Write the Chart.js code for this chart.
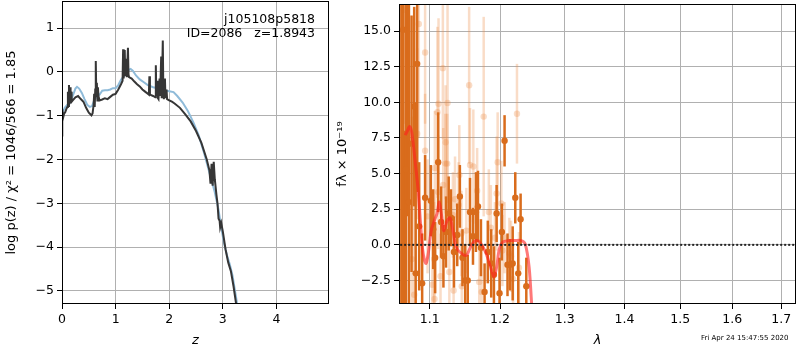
<!DOCTYPE html>
<html>
<head>
<meta charset="utf-8">
<script src="https://cdn.jsdelivr.net/npm/chart.js@4"></script>
<style>
  body { margin: 0; background: #fff; overflow: hidden; }
  #wrap { position: relative; width: 800px; height: 350px; }
  #left { position: absolute; left: 0; top: 0; width: 335px; height: 350px; }
  #right { position: absolute; left: 335px; top: 0; width: 465px; height: 350px; }
  #stamp { position: absolute; left: 701px; top: 334px; font: 7px 'DejaVu Sans'; color: #000; }
</style>
</head>
<body>
<div id="wrap">
  <div id="left"><canvas id="pzChart"></canvas></div>
  <div id="right"><canvas id="specChart"></canvas></div>
  <div id="stamp">Fri Apr 24 15:47:55 2020</div>
</div>
<script>
// p(z) panel
const zDark = [0.00, 0.005, 0.02, 0.04, 0.06, 0.08, 0.10, 0.11, 0.12, 0.13, 0.14, 0.15, 0.16, 0.17, 0.18, 0.20, 0.25, 0.30, 0.35, 0.40,
  0.45, 0.50, 0.55, 0.57, 0.59, 0.60, 0.61, 0.62, 0.63, 0.64, 0.65, 0.66, 0.67, 0.68, 0.70, 0.75, 0.80, 0.85, 0.90, 0.95,
  1.00, 1.05, 1.10, 1.13, 1.14, 1.15, 1.17, 1.18, 1.20, 1.21, 1.23, 1.24, 1.25, 1.30, 1.35, 1.40, 1.45, 1.50, 1.55, 1.60,
  1.62, 1.63, 1.64, 1.70, 1.74, 1.75, 1.76, 1.78, 1.79, 1.80, 1.82, 1.83, 1.85, 1.86, 1.88, 1.89, 1.90, 1.92, 1.93, 1.95,
  1.96, 2.00, 2.05, 2.10, 2.20, 2.30, 2.40, 2.50, 2.60, 2.70, 2.75, 2.77, 2.79, 2.81, 2.83, 2.85, 2.88, 2.90, 2.92, 2.94,
  2.95, 2.97, 3.00, 3.05, 3.10, 3.15, 3.20, 3.26];
const logpDark = [-1.45, -0.85, -1.05, -0.95, -0.92, -0.85, -0.80, -0.45, -0.78, -0.30, -0.70, -0.35, -0.72, -0.45, -0.68, -0.65, -0.58, -0.55, -0.62, -0.68,
  -0.82, -0.93, -0.99, -0.95, -0.75, -0.50, -0.80, -0.40, 0.25, -0.55, -0.25, -0.65, -0.35, -0.55, -0.65, -0.63, -0.60, -0.62, -0.57, -0.52,
  -0.50, -0.40, -0.28, -0.20, 0.52, -0.15, 0.50, -0.10, 0.30, -0.12, 0.55, -0.05, -0.12, -0.15, -0.22, -0.28, -0.33, -0.40, -0.45, -0.50,
  -0.52, -0.10, -0.52, -0.55, -0.58, 0.15, -0.55, -0.20, -0.60, -0.62, -0.15, -0.55, 0.35, -0.60, 0.72, -0.45, -0.62, -0.15, -0.60, -0.40,
  -0.62, -0.65, -0.68, -0.72, -0.82, -0.97, -1.13, -1.35, -1.62, -2.00, -2.25, -2.55, -2.10, -2.60, -2.05, -2.45, -2.80, -3.00, -3.35, -3.40,
  -3.55, -3.45, -3.65, -4.05, -4.35, -4.55, -4.90, -5.40];
const zBlue = [0.00, 0.05, 0.10, 0.15, 0.20, 0.25, 0.28, 0.32, 0.37, 0.42, 0.47, 0.52, 0.56, 0.60, 0.65, 0.70, 0.75, 0.80, 0.85, 0.90,
  0.95, 1.00, 1.05, 1.10, 1.15, 1.20, 1.25, 1.28, 1.32, 1.38, 1.45, 1.52, 1.60, 1.70, 1.80, 1.90, 2.00, 2.08, 2.15, 2.25,
  2.35, 2.45, 2.55, 2.65, 2.75, 2.85, 2.92, 2.97, 3.02, 3.08, 3.13, 3.18, 3.24, 3.28];
const logpBlue = [-0.95, -0.82, -0.75, -0.70, -0.55, -0.38, -0.34, -0.38, -0.48, -0.62, -0.75, -0.80, -0.78, -0.65, -0.55, -0.52, -0.43, -0.42, -0.42, -0.40,
  -0.37, -0.37, -0.30, -0.18, -0.10, -0.02, 0.05, 0.07, 0.03, -0.08, -0.17, -0.23, -0.30, -0.35, -0.38, -0.42, -0.44, -0.46, -0.55, -0.70,
  -0.90, -1.15, -1.45, -1.85, -2.30, -2.75, -3.15, -3.55, -3.90, -4.20, -4.40, -4.65, -5.10, -5.40];
const zTicks = [0, 1, 2, 3, 4];
const logpTicks = [-5, -4, -3, -2, -1, 0, 1];

// spectrum panel
const darkWave = [1.0620, 1.0645, 1.0660, 1.0680, 1.0700, 1.0720, 1.0755, 1.0790, 1.0810, 1.0830, 1.0857, 1.0897, 1.0937, 1.1015, 1.1047, 1.1074,
  1.1115, 1.1156, 1.1188, 1.1224, 1.1261, 1.1293, 1.1335, 1.1381, 1.1418, 1.1455, 1.1493, 1.1530, 1.1562, 1.1605, 1.1648, 1.1677,
  1.1720, 1.1773, 1.1820, 1.1870, 1.1910, 1.1950, 1.1993, 1.2028, 1.2068, 1.2112, 1.2150, 1.2190, 1.2229, 1.2274, 1.2310, 1.2397];
const darkFlux = [19.0, 15.1, -6.0, 5.3, 18.0, 3.0, 7.1, 9.7, -2.0, 12.7, 1.3, -2.7, 3.3, 3.1, 1.1, -0.9,
  5.8, 1.6, -0.8, 0.9, 2.2, 1.9, -0.5, 0.7, 3.4, -0.9, -2.5, -2.5, 2.3, 0.6, 2.3, 2.7,
  -0.2, -3.3, -0.5, -1.3, -2.1, 2.2, -3.4, 0.9, 7.3, -1.4, -1.4, -1.3, 3.3, -2.0, 1.8, -2.9];
const darkErr = [25, 20, 14, 12, 16, 14, 9, 7, 12, 9, 4.5, 3.5, 3.0, 2.5, 2.8, 2.5,
  3.5, 2.5, 2.2, 2.5, 2.6, 2.0, 2.5, 2.2, 2.2, 2.0, 2.5, 1.8, 2.4, 2.0, 2.8, 2.5,
  2.0, 2.0, 2.2, 2.4, 2.0, 2.0, 2.5, 2.0, 1.8, 2.2, 1.8, 2.6, 1.8, 2.2, 1.8, 2.0];
const lightWave = [1.0652, 1.0760, 1.0790, 1.0830, 1.0852, 1.0937, 1.0937, 1.0970, 1.1035, 1.1060, 1.1065, 1.1070, 1.1105, 1.1115, 1.1120, 1.1148,
  1.1180, 1.1185, 1.1215, 1.1218, 1.1240, 1.1245, 1.1270, 1.1320, 1.1330, 1.1350, 1.1400, 1.1410, 1.1440, 1.1445, 1.1510, 1.1550,
  1.1562, 1.1610, 1.1665, 1.1695, 1.1730, 1.1760, 1.1835, 1.1865, 1.1925, 1.1950, 1.1965, 1.2020, 1.2035, 1.2068, 1.2140, 1.2165,
  1.2195, 1.2255, 1.2285];
const lightFlux = [16.5, -1.0, -3.5, 7.8, 15.5, 13.5, 6.6, 2.0, -2.8, -1.0, -3.8, 5.4, 9.3, 3.7, 9.9, -2.2,
  12.4, 4.2, 5.7, 7.2, 5.7, 9.95, -1.9, 2.1, -3.2, 3.2, 2.8, 4.9, 0.8, -2.9, 1.0, 11.2,
  5.6, 5.5, 3.8, -2.6, -3.3, 9.0, 2.3, 1.2, 0.5, 3.6, 5.8, 2.9, -0.4, 0.5, -0.6, -0.8,
  -2.4, 9.2, -1.6];
const lightErr = [8, 10, 8, 6, 8, 5, 4, 4, 3, 4, 3, 4, 6, 4, 6, 3,
  5, 4, 3.5, 4, 3.5, 7, 3, 3, 3, 3, 3, 3.5, 3, 3, 3, 5.5,
  4, 4, 3, 3, 3, 7, 3, 3, 2.5, 4, 3.5, 3, 2.5, 2.5, 2.5, 2.5,
  2.5, 3.5, 2.5];
const modelWave = [1.067, 1.070, 1.073, 1.076, 1.080, 1.084, 1.087, 1.090, 1.093, 1.095, 1.098, 1.102, 1.107, 1.110, 1.113, 1.116,
  1.119, 1.124, 1.128, 1.132, 1.137, 1.144, 1.151, 1.158, 1.165, 1.172, 1.1795, 1.186, 1.191, 1.195, 1.199, 1.204,
  1.213, 1.222, 1.232, 1.238, 1.244, 1.2485];
const modelFlux = [7.7, 8.0, 8.3, 7.8, 6.0, 4.0, 1.9, -0.2, -1.1, -1.3, -0.6, 1.0, 1.8, 2.2, 3.0, 2.15,
  1.0, 1.7, 1.9, 1.0, -0.2, -0.6, -0.74, -0.05, 0.3, 0.07, -0.6, -1.55, -2.25, -1.55, -0.28, 0.19,
  0.3, 0.3, 0.3, 0.07, -1.55, -4.6];
const waveTicks = [1.1, 1.2, 1.3, 1.4, 1.5, 1.6, 1.7];
const fluxTicks = [-2.5, 0, 2.5, 5, 7.5, 10, 12.5, 15];

Chart.defaults.font.family = 'DejaVu Sans';
Chart.defaults.font.size = 12.5;
Chart.defaults.color = '#000';
Chart.defaults.animation = false;

const pairs = (xs, ys) => xs.map((x, i) => ({x: x, y: ys[i]}));
const minus = s => String(s).replace('-', '\u2212');
// drop the extra room Chart.js keeps for half tick labels at the ends
const noPad = s => { s.paddingTop = 0; s.paddingBottom = 0; s.paddingLeft = 0; s.paddingRight = 0; };

const frame = {
  id: 'frame',
  afterDraw(chart) {
    const a = chart.chartArea, ctx = chart.ctx;
    ctx.save();
    ctx.strokeStyle = '#000';
    ctx.lineWidth = 1;
    ctx.strokeRect(Math.round(a.left) + 0.5, Math.round(a.top) + 0.5, Math.round(a.right - a.left) - 1, Math.round(a.bottom - a.top) - 1);
    ctx.restore();
  }
};

const errorBars = {
  id: 'errorBars',
  beforeDatasetDraw(chart, args) {
    const ds = chart.data.datasets[args.index];
    if (!ds.errors) return;
    const xs = chart.scales.x, ys = chart.scales.y, a = chart.chartArea, ctx = chart.ctx;
    ctx.save();
    ctx.beginPath();
    ctx.rect(a.left, a.top, a.right - a.left, a.bottom - a.top);
    ctx.clip();
    ctx.strokeStyle = ds.errorColor;
    ctx.lineWidth = 2.5;
    ds.data.forEach((p, i) => {
      const px = xs.getPixelForValue(p.x);
      ctx.beginPath();
      ctx.moveTo(px, ys.getPixelForValue(p.y - ds.errors[i]));
      ctx.lineTo(px, ys.getPixelForValue(p.y + ds.errors[i]));
      ctx.stroke();
    });
    ctx.restore();
  }
};

const label = {
  id: 'label',
  afterDraw(chart) {
    const ctx = chart.ctx, a = chart.chartArea;
    ctx.save();
    ctx.font = '12.5px DejaVu Sans';
    ctx.fillStyle = '#000';
    ctx.textAlign = 'right';
    ctx.textBaseline = 'middle';
    ctx.fillText('j105108p5818', a.right - 14, 20);
    ctx.fillText('ID=2086   z=1.8943', a.right - 14, 34);
    ctx.restore();
  }
};

const gridStyle = {color: '#b0b0b0', lineWidth: 1, tickColor: '#000', tickLength: 5};

new Chart(document.getElementById('pzChart'), {
  type: 'scatter',
  data: {
    datasets: [
      {data: pairs(zDark, logpDark), showLine: true, borderColor: '#363636', borderWidth: 2, pointRadius: 0, tension: 0},
      {data: pairs(zBlue, logpBlue), showLine: true, borderColor: '#8fbbd9', borderWidth: 2, pointRadius: 0, tension: 0}
    ]
  },
  options: {
    responsive: true,
    maintainAspectRatio: false,
    layout: {padding: {left: 0, right: 6, top: 1, bottom: 0}},
    plugins: {legend: {display: false}, tooltip: {enabled: false}},
    scales: {
      x: {
        type: 'linear', min: 0, max: 4.98,
        afterBuildTicks: s => { s.ticks = zTicks.map(v => ({value: v})); },
        afterFit: s => { s.height = 46; noPad(s); },
        ticks: {padding: 3, maxRotation: 0, callback: v => String(v)},
        grid: gridStyle, border: {display: false},
        title: {display: true, text: 'z', font: {style: 'italic', size: 13}, padding: {top: 0, bottom: 2}}
      },
      y: {
        type: 'linear', min: -5.3, max: 1.62,
        afterBuildTicks: s => { s.ticks = logpTicks.map(v => ({value: v})); },
        afterFit: s => { s.width = 62; noPad(s); },
        ticks: {padding: 3, callback: v => minus(v)},
        grid: gridStyle, border: {display: false},
        title: {display: true, text: 'log p(z) / \u03c7\u00b2 = 1046/566 = 1.85', font: {size: 13}, padding: {top: 4, bottom: 0}}
      }
    }
  },
  plugins: [frame, label]
});

new Chart(document.getElementById('specChart'), {
  type: 'scatter',
  data: {
    datasets: [
      {data: [{x: 1.05, y: 0}, {x: 1.75, y: 0}], showLine: true, borderColor: '#222', borderWidth: 2, borderDash: [2, 2], pointRadius: 0},
      {data: pairs(modelWave, modelFlux), showLine: true, borderColor: 'rgba(255,30,30,0.6)', borderWidth: 3, pointRadius: 0, tension: 0.3},
      {data: pairs(darkWave, darkFlux), errors: darkErr, errorColor: '#d96c1c', pointRadius: 3.2, pointBackgroundColor: '#d96c1c', pointBorderWidth: 0},
      {data: pairs(lightWave, lightFlux), errors: lightErr, errorColor: 'rgba(236,140,70,0.3)', pointRadius: 3.2, pointBackgroundColor: 'rgba(236,140,70,0.3)', pointBorderWidth: 0}
    ]
  },
  options: {
    responsive: true,
    maintainAspectRatio: false,
    layout: {padding: {left: 0, right: -2, top: 1, bottom: 0}},
    plugins: {legend: {display: false}, tooltip: {enabled: false}},
    scales: {
      x: {
        type: 'logarithmic', min: 1.0589, max: 1.7313,
        afterBuildTicks: s => { s.ticks = waveTicks.map(v => ({value: v})); },
        afterFit: s => { s.height = 46; noPad(s); },
        ticks: {padding: 3, maxRotation: 0, autoSkip: false, callback: v => v.toFixed(1)},
        grid: gridStyle, border: {display: false},
        title: {display: true, text: '\u03bb', font: {style: 'italic', size: 13}, padding: {top: 0, bottom: 2}}
      },
      y: {
        type: 'linear', min: -4.15, max: 16.9,
        afterBuildTicks: s => { s.ticks = fluxTicks.map(v => ({value: v})); },
        afterFit: s => { s.width = 64; noPad(s); },
        ticks: {padding: 3, callback: v => minus(v.toFixed(1))},
        grid: gridStyle, border: {display: false},
        title: {display: true, text: 'f\u03bb \u00d7 10\u207b\u00b9\u2079', font: {size: 13}, padding: {top: 0, bottom: 0}}
      }
    }
  },
  plugins: [frame, errorBars]
});
</script>
</body>
</html>
